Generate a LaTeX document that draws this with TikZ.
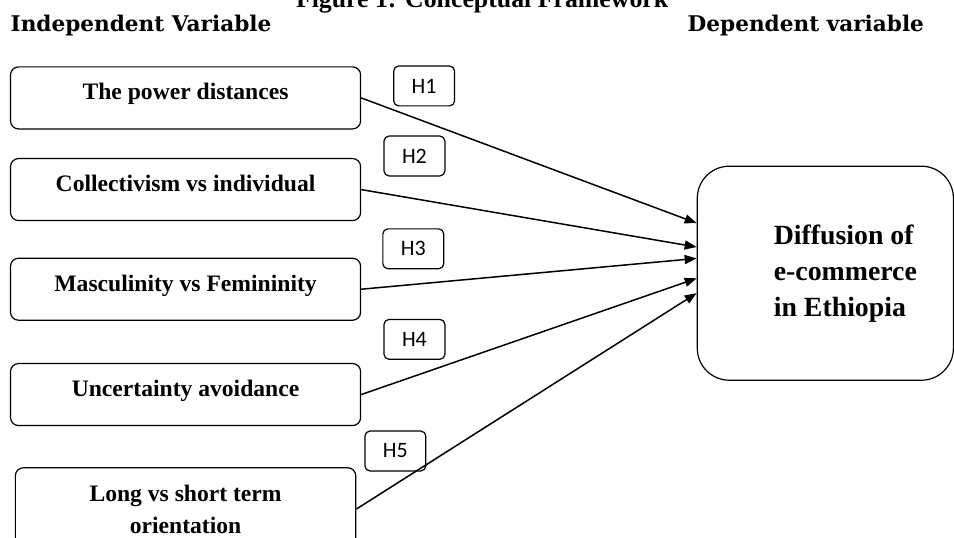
\documentclass[tikz,border=0pt]{standalone}
\usepackage{fontspec}
\setmainfont{Liberation Serif}
\newfontfamily\headfont{DejaVu Serif}
\newfontfamily\hypfont{Carlito}
\usetikzlibrary{positioning,arrows.meta}

\begin{document}
\begin{tikzpicture}[
		factor/.style={draw=black,line width=0.6pt,rounded corners=4pt,minimum width=6.15cm,inner ysep=8.5pt,align=center,font=\fontsize{11.8}{16}\selectfont\bfseries},
		oneline/.style={text height=8pt,text depth=6pt},
		hyp/.style={draw=black,line width=0.6pt,rounded corners=2.5pt,minimum width=1.07cm,minimum height=0.7cm,inner sep=0pt,font=\hypfont\fontsize{11}{13}\selectfont},
		outcome/.style={draw=black,line width=0.6pt,rounded corners=16pt,minimum width=4.5cm,minimum height=3.76cm,font=\fontsize{13.9}{18}\selectfont\bfseries},
		link/.style={-{Triangle[length=6pt,width=4.5pt]},line width=0.75pt}
	]
		\useasboundingbox (0,0) rectangle (16.76,-9.45);
		
		\node[anchor=base,inner sep=0pt,font=\fontsize{12.9}{15}\selectfont\bfseries] (title) at (8.47,-0.13) {Figure 1: Conceptual Framework};
		\node[anchor=base west,inner sep=0pt,font=\headfont\bfseries\fontsize{10.8}{13}\selectfont] (indep) at (0.18,-0.56) {Independent Variable};
		\node[anchor=base east,inner sep=0pt,font=\headfont\bfseries\fontsize{10.8}{13}\selectfont] (depvar) at (16.24,-0.56) {Dependent variable};
		
		\node[factor,oneline] (b1) at (3.26,-1.72) {The power distances};
		\node[factor,oneline,below=0.5cm of b1] (b2) {Collectivism vs individual};
		\node[factor,oneline,below=0.64cm of b2] (b3) {Masculinity vs Femininity};
		\node[factor,oneline,below=0.74cm of b3] (b4) {Uncertainty avoidance};
		\node[factor,minimum width=5.98cm,below=0.72cm of b4] (b5) {Long vs short term\\orientation};
		
		\node[hyp,right=0.56cm of b1.east,shift={(0,0.21)}] (h1) {H1};
		\node[hyp,right=0.39cm of b2.east,shift={(0,0.59)}] (h2) {H2};
		\node[hyp,right=0.37cm of b3.east,shift={(0,0.71)}] (h3) {H3};
		\node[hyp,right=0.39cm of b4.east,shift={(0,0.97)}] (h4) {H4};
		\node[hyp,right=0.14cm of b5.east,shift={(0,1.02)}] (h5) {H5};
		
		\node[outcome] (dep) at (14.50,-4.80) {\begin{tabular}{@{\hspace{20pt}}l@{}}Diffusion of\\e-commerce\\in Ethiopia\end{tabular}};
		
		\draw[link] (b1.east) -- ([yshift=0.88cm]dep.west);
		\draw[link] (b2.east) -- ([yshift=0.46cm]dep.west);
		\draw[link] (b3.east) -- ([yshift=0.26cm]dep.west);
		\draw[link] (b4.east) -- ([yshift=-0.09cm]dep.west);
		\draw[link] (b5.east) -- ([yshift=-0.35cm]dep.west);
	\end{tikzpicture}
\end{document}
